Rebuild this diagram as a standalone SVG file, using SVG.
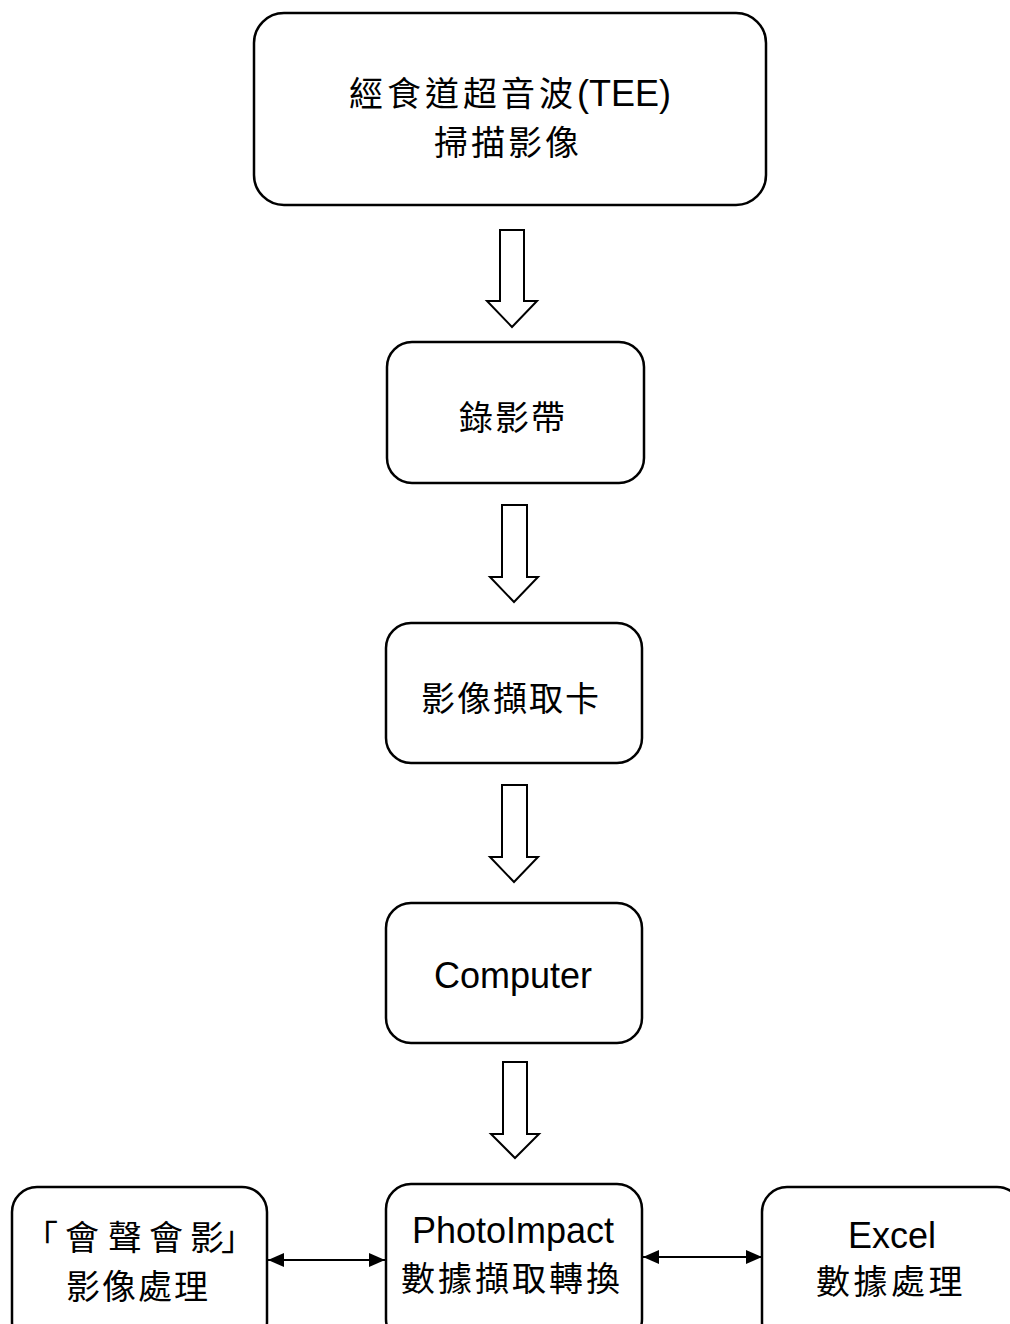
<svg xmlns="http://www.w3.org/2000/svg" width="1010" height="1324" viewBox="0 0 1010 1324">
<style>
.box{fill:#fff;stroke:#000;stroke-width:2.5}
.blk{fill:#fff;stroke:#000;stroke-width:2}
.cjk{font-family:"Noto Sans CJK TC","Noto Sans CJK SC",sans-serif;font-size:34px;fill:#000}
.lat{font-family:"Liberation Sans",Arial,sans-serif;font-size:36px;fill:#000}
.link{stroke:#000;stroke-width:2;fill:none}
</style>
<defs>
<marker id="ah" viewBox="0 0 16 14" refX="16" refY="7" markerWidth="16" markerHeight="14" markerUnits="userSpaceOnUse" orient="auto-start-reverse">
<path d="M0,0 L16,7 L0,14 Z" fill="#000"/>
</marker>
</defs>
<rect width="1010" height="1324" fill="#fff"/>
<g id="connectors">
<polygon class="blk" points="500,230 524,230 524,301 537,301 512,327 487,301 500,301"/>
<polygon class="blk" points="502,505 527,505 527,577 538,577 514,602 490,577 502,577"/>
<polygon class="blk" points="502,785 527,785 527,857 538,857 514,882 490,857 502,857"/>
<polygon class="blk" points="503,1062 527,1062 527,1134 539,1134 515,1158 491,1134 503,1134"/>
<line class="link" x1="268" y1="1260" x2="385" y2="1260" marker-start="url(#ah)" marker-end="url(#ah)"/>
<line class="link" x1="643" y1="1257" x2="762" y2="1257" marker-start="url(#ah)" marker-end="url(#ah)"/>
</g>
<g id="n1">
<rect class="box" x="254" y="13" width="512" height="192" rx="30"/>
<text x="349" y="106"><tspan class="cjk" letter-spacing="4">經食道超音波</tspan><tspan class="lat" font-size="34">(TEE)</tspan></text>
<text class="cjk" x="434" y="155" letter-spacing="3">掃描影像</text>
</g>
<g id="n2">
<rect class="box" x="387" y="342" width="257" height="141" rx="25"/>
<text class="cjk" x="459" y="430" letter-spacing="2">錄影帶</text>
</g>
<g id="n3">
<rect class="box" x="386" y="623" width="256" height="140" rx="25"/>
<text class="cjk" x="421" y="711" letter-spacing="2">影像擷取卡</text>
</g>
<g id="n4">
<rect class="box" x="386" y="903" width="256" height="140" rx="25"/>
<text class="lat" x="513" y="988" text-anchor="middle">Computer</text>
</g>
<g id="n5">
<rect class="box" x="386" y="1184" width="256" height="160" rx="25"/>
<text class="lat" x="513" y="1243" text-anchor="middle">PhotoImpact</text>
<text class="cjk" x="401" y="1291" letter-spacing="3">數據擷取轉換</text>
</g>
<g id="n6">
<rect class="box" x="12" y="1187" width="255" height="160" rx="25"/>
<text class="cjk" x="24 65 108 149 190 221" y="1250">「會聲會影」</text>
<text class="cjk" x="66" y="1299" letter-spacing="2">影像處理</text>
</g>
<g id="n7">
<rect class="box" x="762" y="1187" width="260" height="160" rx="25"/>
<text class="lat" x="892" y="1248" text-anchor="middle">Excel</text>
<text class="cjk" x="816" y="1294" letter-spacing="3.5">數據處理</text>
</g>
</svg>
